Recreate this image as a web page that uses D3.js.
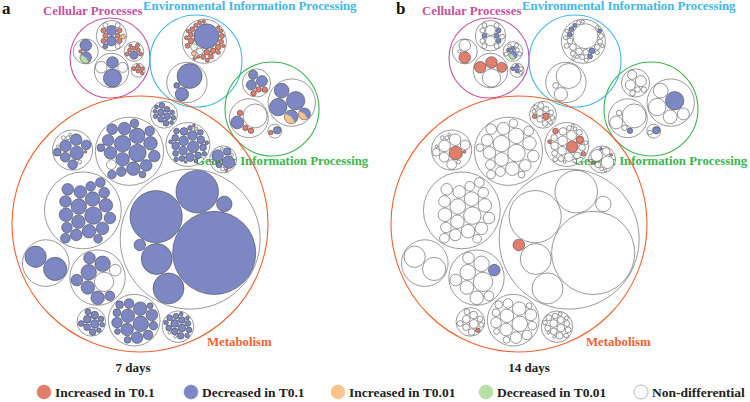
<!DOCTYPE html>
<html>
<head>
<meta charset="utf-8">
<script src="https://d3js.org/d3.v7.min.js"></script>
<style>
  body { margin: 0; background: #fff; }
  text { font-family: "Liberation Serif", "Times New Roman", serif; font-weight: bold; }
</style>
</head>
<body>
<svg id="chart" width="750" height="402"></svg>
<script>
  // KEGG level-1 categories
  var categories = ["Cellular Processes", "Environmental Information Processing",
                    "Genetic Information Processing", "Metabolism"];
  var panels = ["7 days", "14 days"];
  var legendLabels = ["Increased in T0.1", "Decreased in T0.1", "Increased in T0.01",
                      "Decreased in T0.01", "Non-differential"];

  // pathway sizes, one array per level-2 group
  var cellularSizes = [
    [49, 49, 4],
    [36, 36, 9, 9, 9, 9, 9, 9, 9, 9, 9, 9, 9],
    [121, 49, 49, 36],
    [6, 6, 6, 6, 4],
    [25, 6, 6, 6, 6, 6, 6, 4]
  ];
  var environmentalSizes = [
    [225, 16, 16, 12, 12, 12, 12, 9, 9, 9, 9, 9, 9, 9, 9, 6, 6, 6, 6, 6, 6, 4, 4, 4, 4, 4, 4],
    [225, 64, 12]
  ];
  var geneticSizes = [
    [36, 30, 25, 9, 9, 9],
    [16, 6],
    [100, 90, 64, 56, 42],
    [169, 49, 9, 9, 9]
  ];
  var metabolismSizes = [
    [20, 16, 16, 12, 12, 9, 9, 9, 6, 6],
    [144, 121],
    [1850, 730, 484, 256, 256, 64, 36],
    [12, 12, 9, 9, 9, 9, 6, 6, 6, 4, 4, 4],
    [64, 49, 49, 42, 36, 36, 30, 25, 25, 20, 16, 16, 12, 9, 9],
    [36, 25, 25, 20, 20, 16, 16, 16, 12, 12, 12, 9, 9, 9, 9, 6, 6, 6, 4, 4, 4, 4, 2, 2],
    [100, 64, 64, 49, 49, 36, 36, 36, 25],
    [49, 36, 36, 25, 25, 25, 16, 4, 4, 4, 2, 2, 2],
    [16, 16, 12, 12, 12, 9, 9, 9, 9, 9, 6, 6, 4, 4, 2, 2],
    [42, 36, 16, 9, 4, 2, 2, 2, 2, 2],
    [81, 64, 56, 49, 49, 49, 49, 42, 42, 36, 36, 36, 36, 30, 30, 25, 25, 25, 20],
    [81, 72, 64, 49, 49, 49, 42, 42, 36, 36, 36, 30, 25, 25, 25, 20, 20, 16, 12]
  ];

  // status per pathway: r inc T0.1, b dec T0.1, o inc T0.01, g dec T0.01, w none
  // G = dec T0.1 / dec T0.01 split, O = dec T0.1 / inc T0.01 split
  var cellular7 = ["Gbr", "bbrrrrrrwwwbo", "bbww", "rrrrr", "brrrrrrr"];
  var cellular14 = ["rww", "wwbbbbwwwwwww", "wrrr", "bbbww", "Gbbwwwww"];
  var environmental7 = ["bwwrrrrrrrrorrrrrrrrrrrrrrr", "bbb"];
  var environmental14 = ["wwwwbwwbwbwwbwwbwwwbwwwwwww", "www"];
  var genetic7 = ["bbbrrr", "br", "bbbOO", "wbrrr"];
  var genetic14 = ["wwwwww", "bw", "bwwww", "wwwwb"];
  var metabolism7 = ["bbbbbbbbbb", "bb", "bbbbbbb", "bbbbbbbbbbbb", "bbbbbbbbbbbbbbb",
                     "bbbbbbbbbbbbbbbbbbbbgbbb", "wbbbbwbbb", "bbbbbbbwwwrww",
                     "bbbbbbbbbbbbbbww", "bbbbwwwwrw", "bbbbbbbbbbbbbbbbbbb",
                     "bbbbbbbbbbbbbwbbbbb"];
  var metabolism14 = ["wwwwwwwwrw", "ww", "wwwwwwr", "rwwwwwwrwwww", "wwwwwwwwwwwwwww",
                      "rwwwwrwwwwwrwwwwrwwwwrww", "wwwwwbwww", "rwwwwwwwwwrww",
                      "wwwwwwwwwwwwwwww", "wwwwwrrbww", "wwwwwwwwwwwwwwwwwww",
                      "wwwwwwwwwwwwwwwwwww"];

  var sizes = [cellularSizes, environmentalSizes, geneticSizes, metabolismSizes];
  var pathStatus = [
    [cellular7, environmental7, genetic7, metabolism7],
    [cellular14, environmental14, genetic14, metabolism14]
  ];

  // layout
  var catColor = ["#C8519F", "#3FB7E9", "#3BB54A", "#F0622D"];
  var catCenter = [[110, 58], [196, 61], [272, 109], [140, 224]];
  var catRadius = [40, 46, 47, 128];
  var catFlip = [true, false, false, false];
  var catRotate = [90, 113, 160, 195];
  var leafFlip = [true, false, false, false];
  var leafRotate = [90, 113, 160, 212];
  var catLabel = [[43, 15], [143, 10], [195, 165], [207, 346]];
  var panelOffset = [0, 379];
  var panelLetterX = [2, 17];
  var panelTitleX = [133, 150];
  var fill = {r: "#E17F6C", b: "#7D87C3", o: "#F8C48C", g: "#B8DEA3", w: "#FFFFFF"};
  var split = {G: ["b", "g"], O: ["b", "o"]};

  function turn(x, y, flip, deg) {
    var a = deg * Math.PI / 180;
    if (flip) x = -x;
    return [x * Math.cos(a) - y * Math.sin(a), x * Math.sin(a) + y * Math.cos(a)];
  }

  var svg = d3.select("#chart");

  panels.forEach(function(panelName, p) {
    var g = svg.append("g").attr("transform", "translate(" + panelOffset[p] + ",0)");

    categories.forEach(function(cat, i) {
      var R = catRadius[i];
      var root = d3.hierarchy({
        children: sizes[i].map(function(vals, gi) {
          return {children: vals.map(function(v, li) { return {value: v, gi: gi, li: li}; })};
        })
      }).sum(function(d) { return d.value || 0; })
        .sort(function(a, b) { return b.value - a.value; });

      d3.pack().size([2 * R, 2 * R])
        .padding(function(d) { return d.depth === 0 ? 3 : 0.8; })(root);

      root.px = catCenter[i][0];
      root.py = catCenter[i][1];
      root.children.forEach(function(grp) {
        var t = turn(grp.x - R, grp.y - R, catFlip[i], catRotate[i]);
        grp.px = root.px + t[0];
        grp.py = root.py + t[1];
        grp.children.forEach(function(leaf) {
          var u = turn(leaf.x - grp.x, leaf.y - grp.y, leafFlip[i], leafRotate[i]);
          leaf.px = grp.px + u[0];
          leaf.py = grp.py + u[1];
        });
      });

      var cg = g.append("g").attr("class", "cat");

      cg.append("circle")
        .attr("cx", root.px).attr("cy", root.py).attr("r", R)
        .attr("fill", "none").attr("stroke", catColor[i]).attr("stroke-width", 1.1);

      cg.selectAll("circle.group")
        .data(root.children)
        .join("circle")
        .attr("class", "group")
        .attr("cx", function(d) { return d.px; })
        .attr("cy", function(d) { return d.py; })
        .attr("r", function(d) { return d.r; })
        .attr("fill", "none").attr("stroke", "#555").attr("stroke-width", 0.6);

      var leaves = cg.selectAll("g.leaf")
        .data(root.leaves())
        .join("g")
        .attr("class", "leaf")
        .attr("transform", function(d) { return "translate(" + d.px + "," + d.py + ")"; });

      leaves.each(function(d) {
        var code = pathStatus[p][i][d.data.gi][d.data.li];
        var el = d3.select(this);
        if (split[code]) {
          var arc = d3.arc().innerRadius(0).outerRadius(d.r);
          el.append("path").attr("d", arc({startAngle: 2.6, endAngle: 5.2}))
            .attr("fill", fill[split[code][1]]);
          el.append("path").attr("d", arc({startAngle: 5.2, endAngle: 2.6 + 2 * Math.PI}))
            .attr("fill", fill[split[code][0]]);
          el.append("circle").attr("r", d.r).attr("fill", "none")
            .attr("stroke", "#333").attr("stroke-width", 0.5);
        } else {
          el.append("circle").attr("r", d.r).attr("fill", fill[code] || "#fff")
            .attr("stroke", "#333").attr("stroke-width", 0.5);
        }
      });

      g.append("text")
        .attr("x", catLabel[i][0]).attr("y", catLabel[i][1])
        .attr("font-size", 12.8)
        .attr("fill", catColor[i])
        .text(cat);
    });

    g.append("text")
      .attr("x", panelLetterX[p]).attr("y", 14)
      .attr("font-size", 17)
      .attr("fill", "#111")
      .text(p === 0 ? "a" : "b");

    g.append("text")
      .attr("x", panelTitleX[p]).attr("y", 372)
      .attr("text-anchor", "middle")
      .attr("font-size", 13)
      .attr("fill", "#222")
      .text(panelName);
  });

  // legend
  var legendX = [44, 191, 338, 486, 641];
  var legendKeys = ["r", "b", "o", "g", "w"];
  var legend = svg.append("g").attr("transform", "translate(0,392)");
  legendLabels.forEach(function(label, k) {
    legend.append("circle")
      .attr("cx", legendX[k]).attr("cy", 0).attr("r", 7)
      .attr("fill", fill[legendKeys[k]])
      .attr("stroke", legendKeys[k] === "w" ? "#888" : fill[legendKeys[k]])
      .attr("stroke-width", 0.6);
    legend.append("text")
      .attr("x", legendX[k] + 11).attr("y", 4.5)
      .attr("font-size", 13.5)
      .attr("fill", "#222")
      .text(label);
  });
</script>
</body>
</html>
